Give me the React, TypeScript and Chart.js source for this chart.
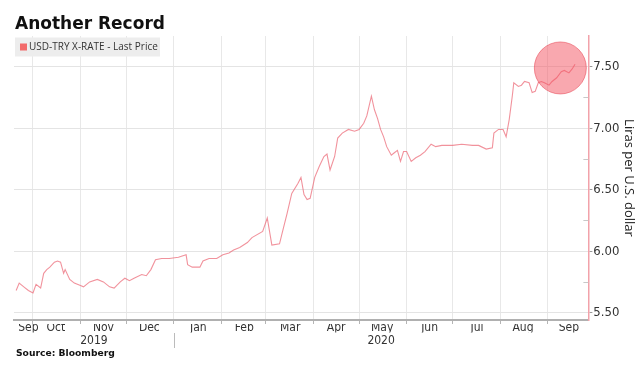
import React, { useEffect, useRef } from "react";
import { Chart, registerables } from "chart.js";

Chart.register(...registerables);

// ---- data ----
const TITLE = "Another Record";
const SERIES_LABEL = "USD-TRY X-RATE - Last Price";
const SOURCE = "Source: Bloomberg";
const Y_TITLE = "Liras per U.S. dollar";

const dates = [
  "2019-09-20", "2019-09-22", "2019-09-25", "2019-09-28", "2019-10-01", "2019-10-03",
  "2019-10-06", "2019-10-08", "2019-10-10", "2019-10-12", "2019-10-15", "2019-10-17",
  "2019-10-19", "2019-10-21", "2019-10-22", "2019-10-25", "2019-10-28", "2019-11-01",
  "2019-11-03", "2019-11-07", "2019-11-12", "2019-11-16", "2019-11-20", "2019-11-23",
  "2019-11-27", "2019-11-30", "2019-12-03", "2019-12-06", "2019-12-11", "2019-12-14",
  "2019-12-17", "2019-12-20", "2019-12-24", "2019-12-29", "2020-01-04", "2020-01-09",
  "2020-01-10", "2020-01-13", "2020-01-18", "2020-01-20", "2020-01-24", "2020-01-29",
  "2020-02-02", "2020-02-06", "2020-02-09", "2020-02-13", "2020-02-18", "2020-02-21",
  "2020-02-28", "2020-03-02", "2020-03-05", "2020-03-10", "2020-03-12", "2020-03-15",
  "2020-03-18", "2020-03-22", "2020-03-24", "2020-03-26", "2020-03-28", "2020-03-30",
  "2020-04-02", "2020-04-05", "2020-04-08", "2020-04-10", "2020-04-12", "2020-04-15",
  "2020-04-17", "2020-04-20", "2020-04-24", "2020-04-28", "2020-05-01", "2020-05-04",
  "2020-05-06", "2020-05-09", "2020-05-11", "2020-05-13", "2020-05-15", "2020-05-17",
  "2020-05-19", "2020-05-22", "2020-05-24", "2020-05-26", "2020-05-28", "2020-05-30",
  "2020-06-01", "2020-06-04", "2020-06-07", "2020-06-10", "2020-06-13", "2020-06-17",
  "2020-06-20", "2020-06-24", "2020-07-01", "2020-07-07", "2020-07-14", "2020-07-18",
  "2020-07-23", "2020-07-27", "2020-07-28", "2020-07-31", "2020-08-03", "2020-08-05",
  "2020-08-07", "2020-08-09", "2020-08-10", "2020-08-13", "2020-08-15", "2020-08-17",
  "2020-08-20", "2020-08-22", "2020-08-24", "2020-08-26", "2020-08-28", "2020-08-30",
  "2020-09-02", "2020-09-04", "2020-09-07", "2020-09-10", "2020-09-12", "2020-09-15",
  "2020-09-17", "2020-09-19",
];

const prices = [
  5.68, 5.74, 5.71, 5.68, 5.66, 5.73,
  5.70, 5.82, 5.85, 5.87, 5.91, 5.92,
  5.91, 5.82, 5.85, 5.77, 5.74, 5.72,
  5.71, 5.75, 5.77, 5.75, 5.71, 5.70,
  5.75, 5.78, 5.76, 5.78, 5.81, 5.80,
  5.85, 5.93, 5.94, 5.94, 5.95, 5.97,
  5.89, 5.87, 5.87, 5.92, 5.94, 5.94,
  5.97, 5.985, 6.01, 6.03, 6.07, 6.11,
  6.16, 6.27, 6.05, 6.06, 6.16, 6.31,
  6.47, 6.55, 6.60, 6.46, 6.42, 6.43,
  6.60, 6.69, 6.77, 6.79, 6.66, 6.77,
  6.92, 6.96, 6.99, 6.975, 6.99, 7.04,
  7.10, 7.26, 7.15, 7.08, 6.99, 6.93,
  6.85, 6.78, 6.80, 6.82, 6.73, 6.81,
  6.81, 6.73, 6.76, 6.78, 6.81, 6.87,
  6.85, 6.86, 6.86, 6.87, 6.86, 6.86,
  6.83, 6.84, 6.96, 6.99, 6.99, 6.93,
  7.07, 7.26, 7.37, 7.34, 7.35, 7.38,
  7.37, 7.29, 7.30, 7.37, 7.38, 7.37,
  7.35, 7.38, 7.41, 7.46, 7.47, 7.45,
  7.48, 7.52,
];

const monthStarts = [
  "2019-10-01", "2019-11-01", "2019-12-01", "2020-01-01", "2020-02-01", "2020-03-01",
  "2020-04-01", "2020-05-01", "2020-06-01", "2020-07-01", "2020-08-01", "2020-09-01",
];
const monthLabelDates = [
  "2019-09-28", "2019-10-16", "2019-11-16", "2019-12-16", "2020-01-17", "2020-02-16",
  "2020-03-17", "2020-04-16", "2020-05-16", "2020-06-16", "2020-07-17", "2020-08-16",
  "2020-09-15",
];
const monthLabels = ["Sep", "Oct", "Nov", "Dec", "Jan", "Feb", "Mar", "Apr", "May", "Jun", "Jul", "Aug", "Sep"];
const yearLabels = ["2019", "2020"];
const yearBoundary = "2020-01-01";
const yMajorTicks = [5.5, 6.0, 6.5, 7.0, 7.5];
const yMinorTicks = [5.75, 6.25, 6.75, 7.25];
const highlightDate = "2020-09-09";
const highlightValue = 7.49;

// ---- helpers ----
const BASE = Date.UTC(2019, 8, 1);
const dayOf = (s: string) => {
  const [y, m, d] = s.split("-").map(Number);
  return (Date.UTC(y, m - 1, d) - BASE) / 86400000;
};
const X_MIN = 17.6;
const X_MAX = 392.7;
const LINE_COLOR = "rgba(236, 104, 118, 0.72)";
const NARROW = '"Liberation Sans Narrow", "DejaVu Sans Condensed", "Liberation Sans", sans-serif';

const decorPlugin = {
  id: "decor",
  afterDraw(chart: any) {
    const { ctx, chartArea, scales } = chart;
    const xs = scales.x;
    ctx.save();
    // minor ticks inside the plot on right axis
    ctx.strokeStyle = "#c8c8c8";
    ctx.lineWidth = 1;
    yMinorTicks.forEach((v) => {
      const py = Math.round(scales.y.getPixelForValue(v)) + 0.5;
      ctx.beginPath();
      ctx.moveTo(chartArea.right - 5, py);
      ctx.lineTo(chartArea.right, py);
      ctx.stroke();
    });
    // title
    ctx.fillStyle = "#111";
    ctx.font = 'bold 17px "DejaVu Sans", sans-serif';
    ctx.textBaseline = "alphabetic";
    ctx.textAlign = "left";
    ctx.fillText(TITLE, 15, 29);
    // legend box
    const lx = chartArea.left + 1;
    const ly = chartArea.top + 1.5;
    ctx.fillStyle = "#ededed";
    ctx.fillRect(lx, ly, 145, 19);
    ctx.fillStyle = "#f26a6a";
    ctx.fillRect(lx + 5, ly + 6, 7, 7);
    ctx.fillStyle = "#333";
    ctx.font = '10px "Open Sans", sans-serif';
    ctx.textBaseline = "middle";
    ctx.fillText(SERIES_LABEL, lx + 14, ly + 10);
    // year labels
    const bx = xs.getPixelForValue(dayOf(yearBoundary));
    ctx.font = `12px ${NARROW}`;
    ctx.fillStyle = "#333";
    ctx.textAlign = "center";
    ctx.fillText(yearLabels[0], (chartArea.left + bx) / 2, 341);
    ctx.fillText(yearLabels[1], (bx + chartArea.right) / 2, 341);
    ctx.strokeStyle = "#bbbbbb";
    ctx.beginPath();
    ctx.moveTo(Math.round(bx) + 0.5, 333);
    ctx.lineTo(Math.round(bx) + 0.5, 348);
    ctx.stroke();
    // source
    ctx.textAlign = "left";
    ctx.fillStyle = "#111";
    ctx.font = 'bold 9.2px "DejaVu Sans", sans-serif';
    ctx.fillText(SOURCE, 16, 354);
    ctx.restore();
  },
};

export default function App() {
  const ref = useRef<HTMLCanvasElement | null>(null);

  useEffect(() => {
    document.body.style.margin = "0";
    const canvas = ref.current;
    if (!canvas) return;
    const chart = new Chart(canvas, {
      type: "line",
      data: {
        datasets: [
          {
            type: "bubble",
            label: "highlight",
            xAxisID: "x",
            yAxisID: "y",
            data: [{ x: dayOf(highlightDate) + 0.4, y: highlightValue, r: 26 }],
            backgroundColor: "rgba(244, 82, 96, 0.5)",
            borderColor: "rgba(232, 70, 84, 0.55)",
            borderWidth: 1,
            order: 0,
          } as any,
          {
            type: "line",
            label: SERIES_LABEL,
            xAxisID: "x",
            yAxisID: "y",
            data: dates.map((d, i) => ({ x: dayOf(d), y: prices[i] })),
            borderColor: LINE_COLOR,
            borderWidth: 1.1,
            pointRadius: 0,
            tension: 0,
            order: 1,
          },
        ],
      },
      options: {
        animation: false,
        responsive: false,
        devicePixelRatio: 1,
        layout: { autoPadding: false, padding: { left: 14, top: 36, right: 0, bottom: 37.6 } },
        plugins: { legend: { display: false }, tooltip: { enabled: false }, title: { display: false } },
        scales: {
          x: {
            type: "linear",
            position: "bottom",
            min: X_MIN,
            max: X_MAX,
            afterBuildTicks: (s: any) => {
              s.ticks = monthStarts.map((d) => ({ value: dayOf(d) }));
            },
            ticks: { display: false },
            grid: { color: "#e8e8e8", tickColor: "#b5b5b5", tickLength: 4, drawTicks: true },
            border: { display: true, color: "#b0b0b0", width: 2 },
          },
          x2: {
            type: "linear",
            position: "bottom",
            min: X_MIN,
            max: X_MAX,
            afterBuildTicks: (s: any) => {
              s.ticks = monthLabelDates.map((d) => ({ value: dayOf(d) }));
            },
            ticks: {
              autoSkip: false,
              maxRotation: 0,
              padding: -3,
              color: "#333",
              font: { family: NARROW, size: 12 },
              callback: (_v: any, i: number) => monthLabels[i],
            },
            grid: { display: false, drawTicks: false },
            border: { display: false },
          },
          y: {
            type: "linear",
            position: "right",
            min: 5.44,
            max: 7.75,
            afterBuildTicks: (s: any) => {
              s.ticks = yMajorTicks.map((v) => ({ value: v }));
            },
            ticks: {
              padding: 1,
              color: "#333",
              font: { family: NARROW, size: 13 },
              callback: (v: any) => Number(v).toFixed(2),
            },
            grid: { color: "#e4e4e4", tickColor: "#999", tickLength: 4 },
            border: { display: true, color: "#f2a2aa", width: 1.5 },
            title: {
              display: true,
              text: Y_TITLE,
              color: "#222",
              font: { family: '"Open Sans", sans-serif', size: 13 },
              padding: { top: 1, bottom: 1 },
            },
          },
        },
      },
      plugins: [decorPlugin],
    } as any);
    return () => chart.destroy();
  }, []);

  return (
    <div style={{ width: 638, height: 370, position: "relative", background: "#fff" }}>
      <canvas ref={ref} width={638} height={370} style={{ display: "block" }} />
    </div>
  );
}
